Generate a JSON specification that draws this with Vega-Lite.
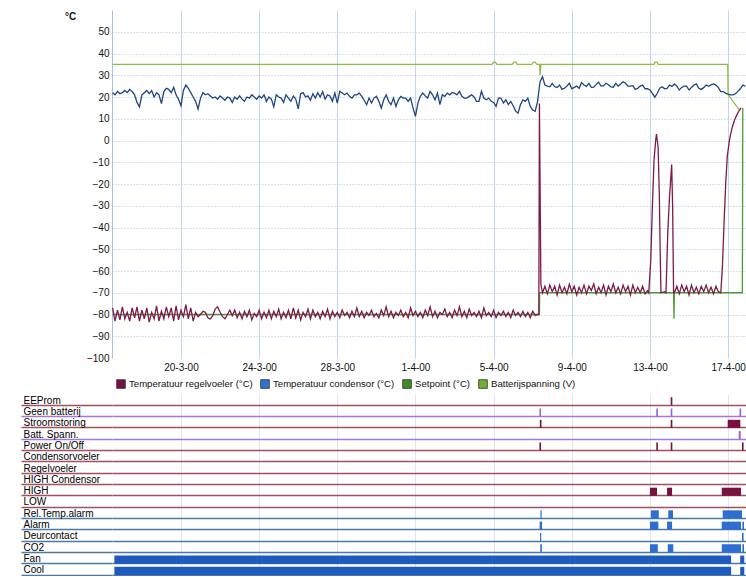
{
"$schema": "https://vega.github.io/schema/vega-lite/v6.json",
"padding": {"left": 20, "top": 10, "right": 0, "bottom": 0},
"spacing": 4,
"config": {"font": "Liberation Sans", "view": {"stroke": null}},
"resolve": {"scale": {"color": "independent", "stroke": "independent"}, "legend": {"color": "independent"}},
"datasets": {
"temp": [
{"t":"2000-03-16T12:00","r":-77,"c":22},{"t":"2000-03-16T15:00","r":-83,"c":21},{"t":"2000-03-16T18:00","r":-78,"c":22.5},{"t":"2000-03-16T21:00","r":-82.5,"c":21.5},
{"t":"2000-03-17T00:00","r":-76.5,"c":22},{"t":"2000-03-17T03:00","r":-82,"c":23},{"t":"2000-03-17T06:00","r":-79,"c":22},{"t":"2000-03-17T09:00","r":-83,"c":23.5},{"t":"2000-03-17T12:00","r":-77,"c":22.5},{"t":"2000-03-17T15:00","r":-81.5,"c":21},{"t":"2000-03-17T18:00","r":-76.5,"c":17.5},{"t":"2000-03-17T21:00","r":-83,"c":15.5},
{"t":"2000-03-18T00:00","r":-78,"c":21},{"t":"2000-03-18T03:00","r":-82,"c":22},{"t":"2000-03-18T06:00","r":-77,"c":23},{"t":"2000-03-18T09:00","r":-83.5,"c":21.5},{"t":"2000-03-18T12:00","r":-79,"c":23},{"t":"2000-03-18T15:00","r":-82,"c":20},{"t":"2000-03-18T18:00","r":-76,"c":22},{"t":"2000-03-18T21:00","r":-83,"c":21},
{"t":"2000-03-19T00:00","r":-78.5,"c":17},{"t":"2000-03-19T03:00","r":-82,"c":22.5},{"t":"2000-03-19T06:00","r":-76.5,"c":24},{"t":"2000-03-19T09:00","r":-81,"c":23.5},{"t":"2000-03-19T12:00","r":-77,"c":22},{"t":"2000-03-19T15:00","r":-83,"c":24.5},{"t":"2000-03-19T18:00","r":-76,"c":21},{"t":"2000-03-19T21:00","r":-82.5,"c":19},
{"t":"2000-03-20T00:00","r":-78,"c":16},{"t":"2000-03-20T03:00","r":-81,"c":23},{"t":"2000-03-20T06:00","r":-75.5,"c":25.5},{"t":"2000-03-20T09:00","r":-82,"c":24},{"t":"2000-03-20T12:00","r":-77,"c":22},{"t":"2000-03-20T15:00","r":-83,"c":20},{"t":"2000-03-20T18:00","r":-79,"c":18},{"t":"2000-03-20T21:00","r":-81,"c":14.5},
{"t":"2000-03-21T00:00","r":-80,"c":19.5},{"t":"2000-03-21T03:00","r":-78.5,"c":22},{"t":"2000-03-21T06:00","r":-79,"c":21},{"t":"2000-03-21T09:00","r":-81.5,"c":21.5},{"t":"2000-03-21T12:00","r":-82,"c":20.5},{"t":"2000-03-21T15:00","r":-80.5,"c":19.5},{"t":"2000-03-21T18:00","r":-77.5,"c":20},{"t":"2000-03-21T21:00","r":-76.5,"c":19},
{"t":"2000-03-22T00:00","r":-79,"c":20.5},{"t":"2000-03-22T03:00","r":-81,"c":19.5},{"t":"2000-03-22T06:00","r":-82,"c":18.5},{"t":"2000-03-22T09:00","r":-80,"c":20},{"t":"2000-03-22T12:00","r":-78,"c":19.5},{"t":"2000-03-22T15:00","r":-80.5,"c":17.5},{"t":"2000-03-22T18:00","r":-78,"c":20},{"t":"2000-03-22T21:00","r":-81.5,"c":19},
{"t":"2000-03-23T00:00","r":-79,"c":20.5},{"t":"2000-03-23T03:00","r":-82,"c":19},{"t":"2000-03-23T06:00","r":-78.5,"c":18},{"t":"2000-03-23T09:00","r":-81,"c":20},{"t":"2000-03-23T12:00","r":-78,"c":19.5},{"t":"2000-03-23T15:00","r":-82.5,"c":21},{"t":"2000-03-23T18:00","r":-79.5,"c":20},{"t":"2000-03-23T21:00","r":-81,"c":19},
{"t":"2000-03-24T00:00","r":-78,"c":20.5},{"t":"2000-03-24T03:00","r":-82,"c":19.5},{"t":"2000-03-24T06:00","r":-79,"c":21},{"t":"2000-03-24T09:00","r":-81.5,"c":18},{"t":"2000-03-24T12:00","r":-78,"c":20},{"t":"2000-03-24T15:00","r":-82,"c":19},{"t":"2000-03-24T18:00","r":-78.5,"c":15.5},{"t":"2000-03-24T21:00","r":-81,"c":21},
{"t":"2000-03-25T00:00","r":-77.5,"c":20},{"t":"2000-03-25T03:00","r":-82,"c":19.5},{"t":"2000-03-25T06:00","r":-79,"c":17.5},{"t":"2000-03-25T09:00","r":-81.5,"c":21},{"t":"2000-03-25T12:00","r":-78,"c":19.5},{"t":"2000-03-25T15:00","r":-82,"c":18},{"t":"2000-03-25T18:00","r":-77,"c":20.5},{"t":"2000-03-25T21:00","r":-81.5,"c":19},
{"t":"2000-03-26T00:00","r":-78,"c":14.5},{"t":"2000-03-26T03:00","r":-82.5,"c":21.5},{"t":"2000-03-26T06:00","r":-79,"c":22},{"t":"2000-03-26T09:00","r":-81,"c":20},{"t":"2000-03-26T12:00","r":-77.5,"c":20.5},{"t":"2000-03-26T15:00","r":-82,"c":18.5},{"t":"2000-03-26T18:00","r":-78,"c":21.5},{"t":"2000-03-26T21:00","r":-81,"c":19.5},
{"t":"2000-03-27T00:00","r":-79,"c":22},{"t":"2000-03-27T03:00","r":-82,"c":20},{"t":"2000-03-27T06:00","r":-78.5,"c":22.5},{"t":"2000-03-27T09:00","r":-81,"c":19},{"t":"2000-03-27T12:00","r":-77.5,"c":21},{"t":"2000-03-27T15:00","r":-82,"c":20.5},{"t":"2000-03-27T18:00","r":-78.5,"c":18},{"t":"2000-03-27T21:00","r":-81,"c":21.8},
{"t":"2000-03-28T00:00","r":-79,"c":17.2},{"t":"2000-03-28T03:00","r":-81.5,"c":22.6},{"t":"2000-03-28T06:00","r":-78,"c":21.8},{"t":"2000-03-28T09:00","r":-80.5,"c":21},{"t":"2000-03-28T12:00","r":-79,"c":21.8},{"t":"2000-03-28T15:00","r":-81.5,"c":20.3},{"t":"2000-03-28T18:00","r":-78.5,"c":19.5},{"t":"2000-03-28T21:00","r":-81,"c":21},
{"t":"2000-03-29T00:00","r":-77,"c":21},{"t":"2000-03-29T03:00","r":-81,"c":21.8},{"t":"2000-03-29T06:00","r":-78.5,"c":20.3},{"t":"2000-03-29T09:00","r":-81.5,"c":18.5},{"t":"2000-03-29T12:00","r":-79,"c":16.5},{"t":"2000-03-29T15:00","r":-80.5,"c":19.5},{"t":"2000-03-29T18:00","r":-78,"c":17.2},{"t":"2000-03-29T21:00","r":-81,"c":19.5},
{"t":"2000-03-30T00:00","r":-79.5,"c":20.3},{"t":"2000-03-30T03:00","r":-81.5,"c":18},{"t":"2000-03-30T06:00","r":-78,"c":14.9},{"t":"2000-03-30T09:00","r":-80.5,"c":18.7},{"t":"2000-03-30T12:00","r":-76.5,"c":21},{"t":"2000-03-30T15:00","r":-81,"c":18},{"t":"2000-03-30T18:00","r":-78.5,"c":16.5},{"t":"2000-03-30T21:00","r":-81.5,"c":19.5},
{"t":"2000-03-31T00:00","r":-79,"c":15.7},{"t":"2000-03-31T03:00","r":-80.5,"c":18.7},{"t":"2000-03-31T06:00","r":-78,"c":20.3},{"t":"2000-03-31T09:00","r":-81,"c":19.5},{"t":"2000-03-31T12:00","r":-79,"c":19.5},{"t":"2000-03-31T15:00","r":-81.5,"c":18},{"t":"2000-03-31T18:00","r":-77,"c":19.5},{"t":"2000-03-31T21:00","r":-80.5,"c":15},
{"t":"2000-04-01T00:00","r":-78.5,"c":11.1},{"t":"2000-04-01T03:00","r":-81,"c":17.2},{"t":"2000-04-01T06:00","r":-79,"c":20.3},{"t":"2000-04-01T09:00","r":-81.5,"c":21.8},{"t":"2000-04-01T12:00","r":-78,"c":20.5},{"t":"2000-04-01T15:00","r":-80.5,"c":19.5},{"t":"2000-04-01T18:00","r":-76.5,"c":22.6},{"t":"2000-04-01T21:00","r":-81,"c":21},
{"t":"2000-04-02T00:00","r":-78.5,"c":18.7},{"t":"2000-04-02T03:00","r":-81.5,"c":21.8},{"t":"2000-04-02T06:00","r":-79,"c":16.5},{"t":"2000-04-02T09:00","r":-80,"c":21},{"t":"2000-04-02T12:00","r":-77.5,"c":20.3},{"t":"2000-04-02T15:00","r":-81,"c":21.8},{"t":"2000-04-02T18:00","r":-79,"c":21},{"t":"2000-04-02T21:00","r":-81.5,"c":22},
{"t":"2000-04-03T00:00","r":-78,"c":21.8},{"t":"2000-04-03T03:00","r":-80.5,"c":21},{"t":"2000-04-03T06:00","r":-76.5,"c":22.6},{"t":"2000-04-03T09:00","r":-81,"c":20.3},{"t":"2000-04-03T12:00","r":-78.5,"c":19.5},{"t":"2000-04-03T15:00","r":-81.5,"c":19.5},{"t":"2000-04-03T18:00","r":-77.5,"c":20.3},{"t":"2000-04-03T21:00","r":-80.5,"c":21},
{"t":"2000-04-04T00:00","r":-79,"c":20},{"t":"2000-04-04T03:00","r":-81,"c":18},{"t":"2000-04-04T06:00","r":-78.5,"c":18},{"t":"2000-04-04T09:00","r":-81.5,"c":22.6},{"t":"2000-04-04T12:00","r":-77,"c":19.5},{"t":"2000-04-04T15:00","r":-80.5,"c":18.7},{"t":"2000-04-04T18:00","r":-79,"c":19.5},{"t":"2000-04-04T21:00","r":-81,"c":18},
{"t":"2000-04-05T00:00","r":-78,"c":17.5},{"t":"2000-04-05T03:00","r":-81.5,"c":15.7},{"t":"2000-04-05T06:00","r":-79,"c":19.5},{"t":"2000-04-05T09:00","r":-80.5,"c":19.5},{"t":"2000-04-05T12:00","r":-78.5,"c":17.2},{"t":"2000-04-05T15:00","r":-81,"c":18.7},{"t":"2000-04-05T18:00","r":-79,"c":16.5},{"t":"2000-04-05T21:00","r":-81.5,"c":18},
{"t":"2000-04-06T00:00","r":-78,"c":16},{"t":"2000-04-06T03:00","r":-80.5,"c":13.5},{"t":"2000-04-06T06:00","r":-79,"c":12.6},{"t":"2000-04-06T09:00","r":-81,"c":16.5},{"t":"2000-04-06T12:00","r":-78.5,"c":18.7},{"t":"2000-04-06T15:00","r":-81,"c":18},{"t":"2000-04-06T18:00","r":-79,"c":19.5},{"t":"2000-04-06T21:00","r":-81.5,"c":15.7},
{"t":"2000-04-07T00:00","r":-78.5,"c":14},{"t":"2000-04-07T03:00","r":-80.5,"c":13.4},{"t":"2000-04-07T06:00","r":-80,"c":18},{"t":"2000-04-07T07:30","r":-80},{"t":"2000-04-07T08:15","r":17},{"t":"2000-04-07T09:00","c":27},{"t":"2000-04-07T10:00","r":-66},{"t":"2000-04-07T12:00","r":-70,"c":29.3},{"t":"2000-04-07T15:00","r":-67,"c":25.5},{"t":"2000-04-07T18:00","r":-70.5,"c":25},{"t":"2000-04-07T21:00","r":-66.5,"c":24.7},
{"t":"2000-04-08T00:00","r":-69.5,"c":26.3},{"t":"2000-04-08T03:00","r":-67,"c":24.7},{"t":"2000-04-08T06:00","r":-71,"c":24.4},{"t":"2000-04-08T09:00","r":-66.5,"c":25.5},{"t":"2000-04-08T12:00","r":-70,"c":23.5},{"t":"2000-04-08T15:00","r":-67.5,"c":24},{"t":"2000-04-08T18:00","r":-70.5,"c":25},{"t":"2000-04-08T21:00","r":-66,"c":26.3},
{"t":"2000-04-09T00:00","r":-69.5,"c":23.8},{"t":"2000-04-09T03:00","r":-67,"c":24.4},{"t":"2000-04-09T06:00","r":-71,"c":25},{"t":"2000-04-09T09:00","r":-67.5,"c":24},{"t":"2000-04-09T12:00","r":-70,"c":26.6},{"t":"2000-04-09T15:00","r":-66.5,"c":25.5},{"t":"2000-04-09T18:00","r":-70.5,"c":24.9},{"t":"2000-04-09T21:00","r":-67,"c":26.3},
{"t":"2000-04-10T00:00","r":-69,"c":24.4},{"t":"2000-04-10T03:00","r":-66,"c":24.5},{"t":"2000-04-10T06:00","r":-70.5,"c":25.8},{"t":"2000-04-10T09:00","r":-67.5,"c":26.8},{"t":"2000-04-10T12:00","r":-70,"c":25},{"t":"2000-04-10T15:00","r":-66.5,"c":25.2},{"t":"2000-04-10T18:00","r":-71,"c":26.3},{"t":"2000-04-10T21:00","r":-67,"c":25.6},
{"t":"2000-04-11T00:00","r":-69.5,"c":24.7},{"t":"2000-04-11T03:00","r":-66,"c":24.5},{"t":"2000-04-11T06:00","r":-70,"c":26.3},{"t":"2000-04-11T09:00","r":-67.5,"c":25},{"t":"2000-04-11T12:00","r":-70.5,"c":26},{"t":"2000-04-11T15:00","r":-66.5,"c":27},{"t":"2000-04-11T18:00","r":-69.5,"c":26.3},{"t":"2000-04-11T21:00","r":-67,"c":25},
{"t":"2000-04-12T00:00","r":-71,"c":25},{"t":"2000-04-12T03:00","r":-66.5,"c":25.2},{"t":"2000-04-12T06:00","r":-70,"c":23.5},{"t":"2000-04-12T09:00","r":-67.5,"c":24},{"t":"2000-04-12T12:00","r":-70,"c":25},{"t":"2000-04-12T15:00","r":-67,"c":25.5},{"t":"2000-04-12T18:00","r":-70.5,"c":23.8},{"t":"2000-04-12T21:00","r":-69,"c":23.8},
{"t":"2000-04-12T22:30","r":-70},{"t":"2000-04-13T00:00","c":23.2},{"t":"2000-04-13T01:00","r":-55},{"t":"2000-04-13T03:00","r":-30,"c":21.7},{"t":"2000-04-13T05:00","r":-9},{"t":"2000-04-13T06:00","c":19.9},{"t":"2000-04-13T07:00","r":0},{"t":"2000-04-13T08:00","r":3},{"t":"2000-04-13T09:00","c":21.7},{"t":"2000-04-13T10:00","r":-3},{"t":"2000-04-13T11:30","r":-25},{"t":"2000-04-13T12:00","c":24},{"t":"2000-04-13T12:30","r":-50},{"t":"2000-04-13T13:30","r":-70},{"t":"2000-04-13T15:00","c":24.7},{"t":"2000-04-13T18:00","r":-69.5,"c":23.8},{"t":"2000-04-13T19:40","r":-70},{"t":"2000-04-13T21:00","c":24},{"t":"2000-04-13T21:50","r":-43},{"t":"2000-04-13T23:50","r":-27},
{"t":"2000-04-14T00:00","c":25.5},{"t":"2000-04-14T02:40","r":-11},{"t":"2000-04-14T03:00","c":24.9},{"t":"2000-04-14T03:50","r":-30},{"t":"2000-04-14T05:00","r":-70},{"t":"2000-04-14T06:00","r":-70,"c":26},{"t":"2000-04-14T09:00","r":-67,"c":25},{"t":"2000-04-14T12:00","r":-70.5,"c":23.2},{"t":"2000-04-14T15:00","r":-66.5,"c":24.4},{"t":"2000-04-14T18:00","r":-69.5,"c":25},{"t":"2000-04-14T21:00","r":-67,"c":25},
{"t":"2000-04-15T00:00","r":-71,"c":23.2},{"t":"2000-04-15T03:00","r":-66.5,"c":24.4},{"t":"2000-04-15T06:00","r":-70,"c":25.5},{"t":"2000-04-15T09:00","r":-67.5,"c":26},{"t":"2000-04-15T12:00","r":-70.5,"c":24},{"t":"2000-04-15T15:00","r":-67,"c":23.5},{"t":"2000-04-15T18:00","r":-69.5,"c":24.3},{"t":"2000-04-15T21:00","r":-66.5,"c":25.5},
{"t":"2000-04-16T00:00","r":-70,"c":24.9},{"t":"2000-04-16T03:00","r":-67.5,"c":25.6},{"t":"2000-04-16T06:00","r":-70.5,"c":26},{"t":"2000-04-16T09:00","r":-67,"c":25.5},{"t":"2000-04-16T12:00","r":-69.5,"c":24.3},{"t":"2000-04-16T15:00","r":-70,"c":22.5},{"t":"2000-04-16T17:00","r":-58},{"t":"2000-04-16T18:00","c":22.5},{"t":"2000-04-16T19:00","r":-38},{"t":"2000-04-16T21:00","r":-20,"c":21.7},{"t":"2000-04-16T23:00","r":-7},
{"t":"2000-04-17T00:00","c":21.3},{"t":"2000-04-17T02:00","r":1},{"t":"2000-04-17T03:00","c":21},{"t":"2000-04-17T05:00","r":6},{"t":"2000-04-17T06:00","c":21},{"t":"2000-04-17T08:00","r":9.5},{"t":"2000-04-17T09:00","c":21.5},{"t":"2000-04-17T11:00","r":12},{"t":"2000-04-17T12:00","c":22.6},{"t":"2000-04-17T14:00","r":14},{"t":"2000-04-17T15:00","c":23.8},{"t":"2000-04-17T16:00","r":15},{"t":"2000-04-17T18:00","c":25.5},{"t":"2000-04-17T21:00","c":25}
],
"ref": [
{"t":"2000-03-16T12:00","s":-80,"b":35},{"t":"2000-04-04T22:00","b":35},{"t":"2000-04-05T00:00","b":36},{"t":"2000-04-05T02:00","b":36},{"t":"2000-04-05T04:00","b":35},{"t":"2000-04-05T23:00","b":35},{"t":"2000-04-06T01:00","b":36},{"t":"2000-04-06T03:00","b":36},{"t":"2000-04-06T05:00","b":35},{"t":"2000-04-06T23:00","b":35},{"t":"2000-04-07T01:00","b":36},{"t":"2000-04-07T03:00","b":36},{"t":"2000-04-07T05:00","b":35},
{"t":"2000-04-07T08:15","s":-80},{"t":"2000-04-07T08:30","s":-70,"b":35},{"t":"2000-04-07T09:00","b":30},{"t":"2000-04-07T10:00","b":35},
{"t":"2000-04-13T05:00","b":35},{"t":"2000-04-13T06:30","b":36},{"t":"2000-04-13T08:30","b":36},{"t":"2000-04-13T10:00","b":35},
{"t":"2000-04-14T05:00","s":-70},{"t":"2000-04-14T05:30","s":-82},{"t":"2000-04-14T06:00","s":-70},
{"t":"2000-04-16T23:30","b":35},{"t":"2000-04-17T00:00","b":21},{"t":"2000-04-17T14:00","b":14},
{"t":"2000-04-17T17:30","s":-70},{"t":"2000-04-17T18:00","s":15}
],
"events": [
{"sig":"EEProm","start":"2000-04-14T01:30","end":"2000-04-14T03:30"},
{"sig":"Geen batterij","start":"2000-04-07T08:15","end":"2000-04-07T10:15"},
{"sig":"Geen batterij","start":"2000-04-13T07:45","end":"2000-04-13T09:45"},
{"sig":"Geen batterij","start":"2000-04-14T01:30","end":"2000-04-14T03:30"},
{"sig":"Geen batterij","start":"2000-04-17T14:00","end":"2000-04-17T16:00"},
{"sig":"Stroomstoring","start":"2000-04-07T08:45","end":"2000-04-07T10:45"},
{"sig":"Stroomstoring","start":"2000-04-14T01:30","end":"2000-04-14T03:30"},
{"sig":"Stroomstoring","start":"2000-04-16T23:30","end":"2000-04-17T15:00"},
{"sig":"Batt. Spann.","start":"2000-04-17T13:00","end":"2000-04-17T15:30"},
{"sig":"Power On/Off","start":"2000-04-07T08:15","end":"2000-04-07T10:15"},
{"sig":"Power On/Off","start":"2000-04-13T07:45","end":"2000-04-13T09:45"},
{"sig":"Power On/Off","start":"2000-04-14T01:30","end":"2000-04-14T03:30"},
{"sig":"Power On/Off","start":"2000-04-17T17:00","end":"2000-04-17T19:00"},
{"sig":"HIGH","start":"2000-04-13T00:00","end":"2000-04-13T08:40"},
{"sig":"HIGH","start":"2000-04-13T21:00","end":"2000-04-14T03:10"},
{"sig":"HIGH","start":"2000-04-16T16:10","end":"2000-04-17T15:50"},
{"sig":"Rel.Temp.alarm","start":"2000-04-07T09:30","end":"2000-04-07T11:00"},
{"sig":"Rel.Temp.alarm","start":"2000-04-13T01:10","end":"2000-04-13T10:50"},
{"sig":"Rel.Temp.alarm","start":"2000-04-13T22:30","end":"2000-04-14T04:20"},
{"sig":"Rel.Temp.alarm","start":"2000-04-16T17:20","end":"2000-04-17T17:00"},
{"sig":"Alarm","start":"2000-04-07T08:30","end":"2000-04-07T11:30"},
{"sig":"Alarm","start":"2000-04-13T00:00","end":"2000-04-13T10:20"},
{"sig":"Alarm","start":"2000-04-13T21:00","end":"2000-04-14T03:10"},
{"sig":"Alarm","start":"2000-04-16T16:10","end":"2000-04-17T15:50"},
{"sig":"Alarm","start":"2000-04-17T17:30","end":"2000-04-17T19:30"},
{"sig":"Deurcontact","start":"2000-04-07T09:00","end":"2000-04-07T10:30"},
{"sig":"Deurcontact","start":"2000-04-17T17:00","end":"2000-04-17T19:00"},
{"sig":"CO2","start":"2000-04-07T09:15","end":"2000-04-07T11:15"},
{"sig":"CO2","start":"2000-04-13T00:00","end":"2000-04-13T09:40"},
{"sig":"CO2","start":"2000-04-13T21:50","end":"2000-04-14T04:40"},
{"sig":"CO2","start":"2000-04-16T16:10","end":"2000-04-17T15:50"},
{"sig":"CO2","start":"2000-04-17T17:30","end":"2000-04-17T19:30"},
{"sig":"Fan","start":"2000-03-16T14:10","end":"2000-04-17T03:40"},
{"sig":"Fan","start":"2000-04-17T14:50","end":"2000-04-17T19:50"},
{"sig":"Cool","start":"2000-03-16T14:10","end":"2000-04-17T03:40"},
{"sig":"Cool","start":"2000-04-17T14:50","end":"2000-04-17T19:50"}
]
},
"vconcat": [
{
"width": 635,
"height": 348,
"encoding": {
"x": {"field": "t", "type": "temporal", "title": null,
"scale": {"domain": [{"year": 2000, "month": 3, "date": 16, "hours": 11, "minutes": 17}, {"year": 2000, "month": 4, "date": 17, "hours": 23, "minutes": 11}]},
"axis": {"values": [{"year": 2000, "month": 3, "date": 20}, {"year": 2000, "month": 3, "date": 24}, {"year": 2000, "month": 3, "date": 28}, {"year": 2000, "month": 4, "date": 1}, {"year": 2000, "month": 4, "date": 5}, {"year": 2000, "month": 4, "date": 9}, {"year": 2000, "month": 4, "date": 13}, {"year": 2000, "month": 4, "date": 17}],
"format": "%-d-%-m-%y", "labelFontSize": 10, "labelColor": "#111", "labelPadding": 4, "ticks": false, "domain": false, "grid": true, "gridColor": "#c6d5ee", "gridWidth": 1, "title": null}},
"y": {"field": "v", "type": "quantitative", "title": null,
"scale": {"domain": [-100, 60], "nice": false, "zero": false},
"axis": {"values": [-100, -90, -80, -70, -60, -50, -40, -30, -20, -10, 0, 10, 20, 30, 40, 50],
"title": "°C", "titleAngle": 0, "titleX": -42, "titleY": 6, "titleAlign": "center", "titleBaseline": "middle", "titleFontSize": 10, "titleFontWeight": "bold", "titleColor": "#111",
"labelFontSize": 10, "labelColor": "#111", "labelPadding": 3, "ticks": false, "tickSize": 0,
"domain": true, "domainColor": "#a8c0e6", "grid": true, "gridColor": "#a8c0e6", "gridDash": [1, 2],
"gridOpacity": {"condition": {"test": "datum.value == -100", "value": 0}, "value": 1}}}
},
"layer": [
{"data": {"name": "ref"},
"transform": [{"fold": ["s", "b"], "as": ["k", "v"]}, {"filter": "isValid(datum.v)"}],
"mark": {"type": "line", "strokeWidth": 1.3},
"encoding": {"stroke": {"field": "k", "type": "nominal", "legend": null,
"scale": {"domain": ["s", "b", "r", "c"], "range": ["#4f9b32", "#8fbd44", "#7d1a4a", "#1f4583"]}}}},
{"data": {"name": "temp"},
"transform": [{"fold": ["r", "c"], "as": ["k", "v"]}, {"filter": "isValid(datum.v)"}],
"mark": {"type": "line", "strokeWidth": 1.3},
"encoding": {"stroke": {"field": "k", "type": "nominal", "legend": null,
"scale": {"domain": ["s", "b", "r", "c"], "range": ["#4f9b32", "#8fbd44", "#7d1a4a", "#1f4583"]}}}},
{"data": {"name": "temp"},
"transform": [{"fold": ["r", "c"], "as": ["k", "v"]}, {"filter": "false"}],
"mark": {"type": "square", "size": 64, "opacity": 1},
"encoding": {"color": {"field": "k", "type": "nominal",
"scale": {"domain": ["r", "c", "s", "b"], "range": ["#7a1044", "#2f74d4", "#3e8c2a", "#6fb030"]},
"legend": {"orient": "none", "legendX": 4, "legendY": 369, "direction": "horizontal", "title": null,
"symbolType": "square", "symbolSize": 75, "symbolStrokeColor": "#333", "symbolStrokeWidth": 0.8, "symbolOpacity": 1,
"labelFontSize": 9.6, "labelColor": "#111", "labelOffset": 3, "columnPadding": 6,
"labelExpr": "datum.label == 'r' ? 'Temperatuur regelvoeler (°C)' : datum.label == 'c' ? 'Temperatuur condensor (°C)' : datum.label == 's' ? 'Setpoint (°C)' : 'Batterijspanning (V)'"}}}}
]
},
{
"width": 635,
"height": 181,
"data": {"name": "events"},
"mark": {"type": "bar", "height": {"band": 0.72}, "yOffset": 1.6},
"encoding": {
"x": {"field": "start", "type": "temporal", "title": null,
"scale": {"domain": [{"year": 2000, "month": 3, "date": 16, "hours": 11, "minutes": 17}, {"year": 2000, "month": 4, "date": 17, "hours": 23, "minutes": 11}]},
"axis": {"values": [{"year": 2000, "month": 3, "date": 20}, {"year": 2000, "month": 3, "date": 24}, {"year": 2000, "month": 3, "date": 28}, {"year": 2000, "month": 4, "date": 1}, {"year": 2000, "month": 4, "date": 5}, {"year": 2000, "month": 4, "date": 9}, {"year": 2000, "month": 4, "date": 13}, {"year": 2000, "month": 4, "date": 17}],
"labels": false, "ticks": false, "domain": false, "grid": true, "gridColor": "#c6d5ee", "gridOpacity": 0.6, "title": null}},
"x2": {"field": "end"},
"y": {"field": "sig", "type": "nominal", "title": null,
"scale": {"domain": ["EEProm", "Geen batterij", "Stroomstoring", "Batt. Spann.", "Power On/Off", "Condensorvoeler", "Regelvoeler", "HIGH Condensor", "HIGH", "LOW", "Rel.Temp.alarm", "Alarm", "Deurcontact", "CO2", "Fan", "Cool"], "paddingInner": 0, "paddingOuter": 0},
"axis": {"title": null, "bandPosition": 1, "tickExtra": false, "ticks": true, "tickSize": 91, "tickWidth": 1.5,
"tickColor": {"condition": [{"test": "indexof(['Geen batterij','Batt. Spann.'], datum.value) >= 0", "value": "#a07ad8"}, {"test": "indexof(['Rel.Temp.alarm','Alarm','Deurcontact','CO2','Fan','Cool'], datum.value) >= 0", "value": "#4a78a8"}], "value": "#a0505f"},
"grid": true, "gridWidth": 1.5,
"gridColor": {"condition": [{"test": "indexof(['Geen batterij','Batt. Spann.'], datum.value) >= 0", "value": "#a07ad8"}, {"test": "indexof(['Rel.Temp.alarm','Alarm','Deurcontact','CO2','Fan','Cool'], datum.value) >= 0", "value": "#4a78a8"}], "value": "#a0505f"},
"domain": false, "labelAlign": "left", "labelBaseline": "alphabetic", "labelPadding": -2, "labelOffset": 4,
"labelFontSize": 10, "labelColor": "#000", "labelLimit": 0}},
"color": {"field": "sig", "type": "nominal", "legend": null,
"scale": {"domain": ["EEProm", "Geen batterij", "Stroomstoring", "Batt. Spann.", "Power On/Off", "Condensorvoeler", "Regelvoeler", "HIGH Condensor", "HIGH", "LOW", "Rel.Temp.alarm", "Alarm", "Deurcontact", "CO2", "Fan", "Cool"],
"range": ["#7a1040", "#9564dc", "#7a1040", "#9564dc", "#7a1040", "#7a1040", "#7a1040", "#7a1040", "#7a1040", "#7a1040", "#2c6fd0", "#2c6fd0", "#2c6fd0", "#2c6fd0", "#1f5bbf", "#1f5bbf"]}}
}
}
]
}
